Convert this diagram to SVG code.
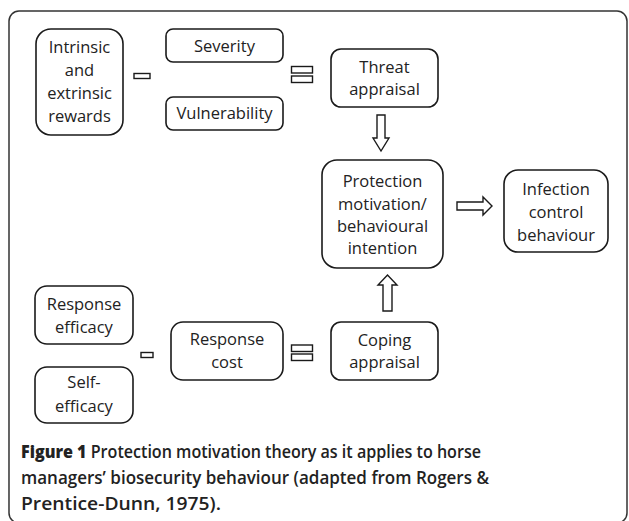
<svg xmlns="http://www.w3.org/2000/svg" width="629" height="521" viewBox="0 0 629 521">
<style>
.box{fill:#fff;stroke:#1a1a1a;stroke-width:1.6}
.sym{fill:#fff;stroke:#1a1a1a;stroke-width:1.4}
.lbl{font-family:"Open Sans","DejaVu Sans",sans-serif;font-size:16.5px;fill:#222;text-anchor:middle}
.cap{font-family:"Open Sans","DejaVu Sans",sans-serif;font-size:17.5px;fill:#222;font-weight:600}
</style>
<rect x="0" y="0" width="629" height="521" fill="#fff"/>
<rect id="frame" x="9" y="11" width="618" height="512" rx="10" fill="none" stroke="#333" stroke-width="1.5"/>
<g id="intrinsic"><rect class="box" x="36" y="29" width="87" height="106" rx="15"/>
<text class="lbl" x="79.5" y="53">Intrinsic</text><text class="lbl" x="79.5" y="76">and</text><text class="lbl" x="79.5" y="99">extrinsic</text><text class="lbl" x="79.5" y="122">rewards</text></g>
<g id="severity"><rect class="box" x="166" y="29" width="117" height="33" rx="7"/><text class="lbl" x="224.5" y="52">Severity</text></g>
<g id="vulnerability"><rect class="box" x="166" y="97" width="117" height="33" rx="7"/><text class="lbl" x="224.5" y="119">Vulnerability</text></g>
<g id="threat"><rect class="box" x="331" y="49" width="107" height="58" rx="10"/><text class="lbl" x="384.5" y="73">Threat</text><text class="lbl" x="384.5" y="95">appraisal</text></g>
<g id="protection"><rect class="box" x="322" y="160" width="121" height="108" rx="15"/><text class="lbl" x="382.5" y="187">Protection</text><text class="lbl" x="382.5" y="210">motivation/</text><text class="lbl" x="382.5" y="232">behavioural</text><text class="lbl" x="382.5" y="254">intention</text></g>
<g id="infection"><rect class="box" x="504" y="170" width="104" height="82" rx="14"/><text class="lbl" x="556" y="195">Infection</text><text class="lbl" x="556" y="218">control</text><text class="lbl" x="556" y="241">behaviour</text></g>
<g id="response-efficacy"><rect class="box" x="35" y="286" width="98" height="58" rx="12"/><text class="lbl" x="84" y="310">Response</text><text class="lbl" x="84" y="333">efficacy</text></g>
<g id="self-efficacy"><rect class="box" x="35" y="367" width="98" height="56" rx="12"/><text class="lbl" x="84" y="388">Self-</text><text class="lbl" x="84" y="412">efficacy</text></g>
<g id="response-cost"><rect class="box" x="171" y="322" width="112" height="58" rx="12"/><text class="lbl" x="227" y="345">Response</text><text class="lbl" x="227" y="368">cost</text></g>
<g id="coping"><rect class="box" x="331" y="322" width="107" height="58" rx="10"/><text class="lbl" x="384.5" y="346">Coping</text><text class="lbl" x="384.5" y="368">appraisal</text></g>
<g id="connectors">
<rect class="sym" x="134" y="73.5" width="16" height="5"/>
<rect class="sym" x="291.5" y="66.5" width="21" height="6.5"/>
<rect class="sym" x="291.5" y="76" width="21" height="6.5"/>
<rect class="sym" x="141" y="352.5" width="12" height="5"/>
<rect class="sym" x="291.5" y="345" width="21" height="6.5"/>
<rect class="sym" x="291.5" y="354" width="21" height="6.5"/>
<path class="sym" d="M377,115 H385 V138 H389 L381,151 L373,138 H377 Z"/>
<path class="sym" d="M457,202 H483 V197 L492,206 L483,215 V210 H457 Z"/>
<path class="sym" d="M383,311 V285 H378 L387.5,275 L397,285 H392 V311 Z"/>
</g>
<text class="cap" x="21" y="458" textLength="460" lengthAdjust="spacingAndGlyphs"><tspan font-weight="800">Figure 1</tspan> Protection motivation theory as it applies to horse</text>
<text class="cap" x="21" y="484" textLength="468" lengthAdjust="spacingAndGlyphs">managers’ biosecurity behaviour (adapted from Rogers &amp;</text>
<text class="cap" x="21" y="510" textLength="200" lengthAdjust="spacingAndGlyphs">Prentice-Dunn, 1975).</text>
</svg>
